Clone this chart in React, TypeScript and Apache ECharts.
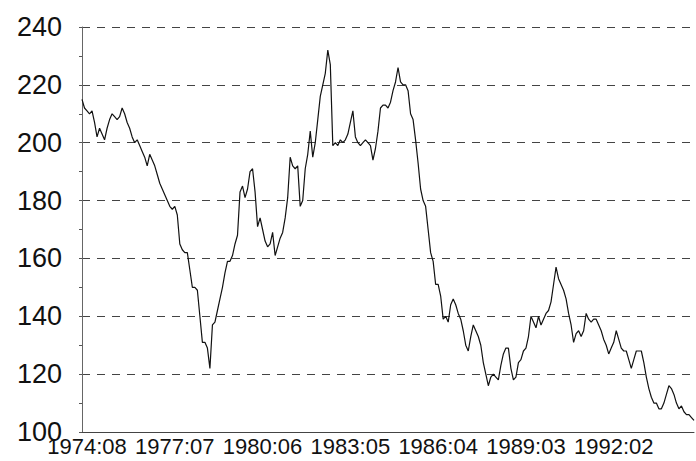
import React, { useEffect, useRef } from "react";
import * as echarts from "echarts";

// Monthly index values, starting 1974:08
const startYear = 1974;
const startMonth = 8;
const seriesValues: number[] = [
  // 1974 (Aug-Dec)
  215, 212, 211, 210, 211,
  // 1975
  207, 202, 205, 203, 201, 205, 208, 210, 209, 208, 209, 212,
  // 1976
  210, 207, 205, 202, 200, 201, 199, 197, 195, 192, 196, 194,
  // 1977
  192, 189, 186, 184, 182, 180, 178, 177, 178, 175, 165, 163,
  // 1978
  162, 162, 156, 150, 150, 149, 140, 131, 131, 129, 122, 137,
  // 1979
  138, 142, 146, 150, 155, 159, 159, 161, 165, 168, 183, 185,
  // 1980
  181, 184, 190, 191, 183, 171, 174, 170, 166, 164, 165, 169,
  // 1981
  161, 164, 167, 169, 174, 181, 195, 192, 191, 192, 178, 180,
  // 1982
  191, 196, 204, 195, 200, 208, 216, 220, 224, 232, 227, 199,
  // 1983
  200, 199, 201, 200, 201, 203, 207, 211, 202, 200, 199, 200,
  // 1984
  201, 200, 199, 194, 198, 204, 212, 213, 213, 212, 214, 218,
  // 1985
  221, 226, 221, 220, 220, 218, 210, 208, 201, 193, 184, 180,
  // 1986
  178, 170, 162, 159, 151, 151, 147, 139, 140, 138, 144, 146,
  // 1987
  144, 141, 139, 135, 130, 128, 133, 137, 135, 133, 130, 124,
  // 1988
  120, 116, 119, 120, 119, 118, 123, 127, 129, 129, 122, 118,
  // 1989
  119, 124, 125, 128, 129, 133, 140, 138, 136, 140, 137, 139,
  // 1990
  141, 142, 145, 151, 157, 153, 151, 149, 146, 141, 137, 131,
  // 1991
  134, 135, 133, 135, 141, 139, 138, 139, 139, 137, 135, 132,
  // 1992
  130, 127, 129, 131, 135, 132, 129, 128, 128, 125, 122, 125,
  // 1993
  128, 128, 128, 124, 119, 115, 112, 110, 110, 108, 108, 110,
  // 1994
  113, 116, 115, 113, 110, 108, 109, 107, 106, 106, 105, 104,
];

const tickLabels = ["1974:08", "1977:07", "1980:06", "1983:05", "1986:04", "1989:03", "1992:02"];
const yMin = 100;
const yMax = 240;
const yStep = 20;

const categories: string[] = seriesValues.map((_, i) => {
  const m0 = startMonth - 1 + i;
  const y = startYear + Math.floor(m0 / 12);
  const m = (m0 % 12) + 1;
  return `${y}:${m < 10 ? "0" + m : m}`;
});

export default function App() {
  const ref = useRef<HTMLDivElement>(null);
  useEffect(() => {
    if (!ref.current) return;
    const chart = echarts.init(ref.current, undefined, { renderer: "svg" });
    chart.setOption({
      animation: false,
      backgroundColor: "#ffffff",
      grid: { left: 82, right: 2, top: 27, bottom: 29, containLabel: false },
      xAxis: {
        type: "category",
        data: categories,
        boundaryGap: false,
        axisLine: { show: true, lineStyle: { color: "#444", width: 1 } },
        axisTick: { show: false },
        splitLine: { show: false },
        axisLabel: {
          interval: (_idx: number, value: string) => tickLabels.includes(value),
          margin: 3,
          fontFamily: "Liberation Sans, Arial, sans-serif",
          fontSize: 22,
          color: "#111",
          padding: [0, 0, 0, 10],
        },
      },
      yAxis: {
        type: "value",
        min: yMin,
        max: yMax,
        interval: yStep,
        axisLine: { show: true, lineStyle: { color: "#666", width: 1 } },
        axisTick: { show: true, inside: false, length: 3, lineStyle: { color: "#555" } },
        minorTick: { show: true, splitNumber: 2, length: 3, lineStyle: { color: "#555" } },
        splitLine: {
          show: true,
          lineStyle: { color: "#444", width: 1, type: [8, 7] },
        },
        axisLabel: {
          margin: 20,
          fontFamily: "Liberation Sans, Arial, sans-serif",
          fontSize: 27,
          color: "#111",
          padding: [0, 0, 8, 0],
        },
      },
      series: [
        {
          type: "line",
          data: seriesValues,
          showSymbol: false,
          symbol: "none",
          lineStyle: { color: "#111", width: 1.2 },
        },
      ],
    });
    return () => chart.dispose();
  }, []);
  return (
    <div
      ref={ref}
      style={{ position: "absolute", left: 0, top: 0, width: 696, height: 461, background: "#fff" }}
    />
  );
}
